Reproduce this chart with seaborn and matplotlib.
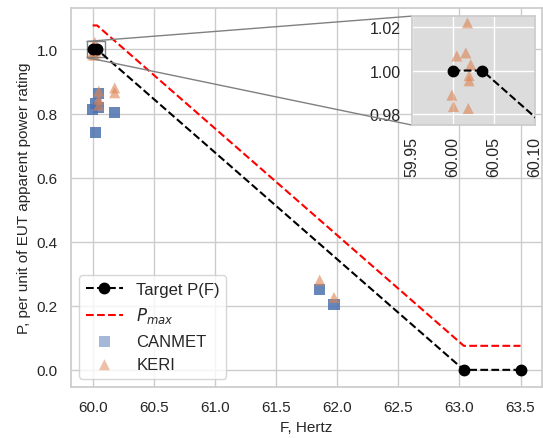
import numpy as np
import pandas as pd
import matplotlib
matplotlib.use("Agg")
import matplotlib.pyplot as plt
import seaborn as sns
from mpl_toolkits.axes_grid1.inset_locator import mark_inset

# Target P(F) curve and Pmax envelope
target_f = [60.0, 60.036, 63.036, 63.5]
target_p = [1.0, 1.0, 0.0, 0.0]
pmax_f = [60.0, 60.036, 63.036, 63.5]
pmax_p = [1.075, 1.075, 0.075, 0.075]

# Measured points
canmet_f = [60.0, 60.02, 60.05, 60.05, 60.02, 60.18, 61.857, 61.974]
canmet_p = [0.814, 0.832, 0.863, 0.819, 0.741, 0.803, 0.252, 0.205]
keri_f = [60.018, 60.005, 60.016, 60.022, 60.020, 60.020, 59.999, 60.001, 60.019,
          60.05, 60.05, 60.05, 60.18, 60.18, 61.857, 61.974]
keri_p = [1.0219, 1.0067, 1.0081, 1.0027, 0.9977, 0.9953, 0.9887, 0.9835, 0.9826,
          0.87, 0.845, 0.826, 0.88, 0.865, 0.280, 0.226]

canmet = pd.DataFrame({"F": canmet_f, "P": canmet_p})
keri = pd.DataFrame({"F": keri_f, "P": keri_p})

sns.set_theme(style="whitegrid")
plt.rcParams['font.family'] = ['Liberation Sans', 'DejaVu Sans']

fig = plt.figure(figsize=(5.43, 4.39), dpi=100)
ax = fig.add_axes([0.131, 0.116, 0.867, 0.863])


def draw(a, legend=True):
    a.plot(target_f, target_p, color="black", linestyle="--", marker="o",
           label="Target P(F)", markersize=7.5, zorder=4)
    a.plot(pmax_f, pmax_p, color="red", linestyle="--", label="$P_{max}$", zorder=3)
    sns.scatterplot(data=canmet, x="F", y="P", marker="s", s=64, color="#4c72b0",
                    alpha=0.85, edgecolor="none", label="CANMET", ax=a, legend=legend)
    sns.scatterplot(data=keri, x="F", y="P", marker="^", s=64, color="#dd8452",
                    alpha=0.6, edgecolor="none", label="KERI", ax=a, legend=legend)


draw(ax)
ax.set_xlabel("F, Hertz", fontsize=11)
ax.set_ylabel("P, per unit of EUT apparent power rating", fontsize=11)
ax.tick_params(labelsize=11)
leg = ax.legend(loc="lower left", fontsize=12, frameon=True, handlelength=2.2)
for h in leg.legend_handles[2:]:
    h.set_alpha(0.5)

# zoomed inset
axins = fig.add_axes([0.758, 0.713, 0.227, 0.248])
draw(axins, legend=False)
axins.set_facecolor("#dcdcdc")
axins.grid(True, color="white", linewidth=1)
axins.set_xlim(59.95, 60.10)
axins.set_ylim(0.975, 1.025)
axins.set_xticks([59.95, 60.00, 60.05, 60.10])
axins.set_yticks([0.98, 1.00, 1.02])
axins.set_xlabel("")
axins.set_ylabel("")
axins.tick_params(labelsize=11.5, pad=2)
plt.setp(axins.get_xticklabels(), rotation=90)
mark_inset(ax, axins, loc1=2, loc2=3, fc="none", ec="0.5")

fig.savefig("out.png", dpi=100)
